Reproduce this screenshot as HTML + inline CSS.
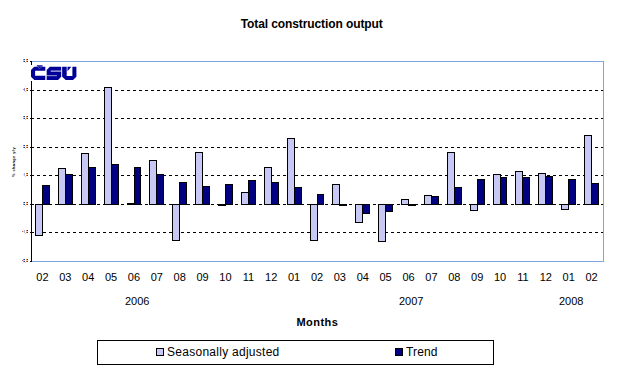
<!DOCTYPE html>
<html><head><meta charset="utf-8"><style>
html,body{margin:0;padding:0;background:#fff;}
body{width:625px;height:372px;position:relative;overflow:hidden;font-family:"Liberation Sans",sans-serif;color:#000;}
div{position:absolute;box-sizing:border-box;}
.bar{border:1px solid #000;}
.grid{left:31px;width:572px;height:1px;background:repeating-linear-gradient(to right,#000 0,#000 3px,transparent 3px,transparent 6px);}
.tick{left:30px;height:1px;background:#000;}
.yl{left:14px;width:14px;text-align:right;font-size:4px;line-height:5px;color:#222;}
.cat{top:271px;width:30px;text-align:center;font-size:11px;line-height:12px;}
.yr{top:295px;font-size:11px;line-height:12px;}
</style></head><body>
<div style="left:0;top:17px;width:625px;text-align:center;font-weight:bold;font-size:12px;line-height:14px;" id="title"><span style="position:relative;left:-0.8px;letter-spacing:-0.1px">Total construction output</span></div>
<div style="left:31px;top:61px;width:573px;height:201px;border:1px solid #7FA5DA;border-left:none;"></div>
<div class="grid" style="top:90px"></div><div class="grid" style="top:118px"></div><div class="grid" style="top:147px"></div><div class="grid" style="top:175px"></div><div class="grid" style="top:204px"></div><div class="grid" style="top:232px"></div>
<div style="left:31px;top:61px;width:1px;height:201px;background:#000;"></div>
<div class="tick" style="top:61px;width:2px"></div><div class="tick" style="top:90px;width:4px"></div><div class="tick" style="top:118px;width:4px"></div><div class="tick" style="top:147px;width:4px"></div><div class="tick" style="top:175px;width:4px"></div><div class="tick" style="top:204px;width:4px"></div><div class="tick" style="top:232px;width:4px"></div><div class="tick" style="top:261px;width:2px"></div>
<div class="bar" style="left:35px;width:8px;top:204px;height:32px;background:#C8C8F5"></div><div class="bar" style="left:42px;width:8px;top:185px;height:20px;background:#000080"></div><div class="bar" style="left:58px;width:8px;top:168px;height:37px;background:#C8C8F5"></div><div class="bar" style="left:65px;width:8px;top:174px;height:31px;background:#000080"></div><div class="bar" style="left:81px;width:8px;top:153px;height:52px;background:#C8C8F5"></div><div class="bar" style="left:88px;width:8px;top:167px;height:38px;background:#000080"></div><div class="bar" style="left:104px;width:8px;top:87px;height:118px;background:#C8C8F5"></div><div class="bar" style="left:111px;width:8px;top:164px;height:41px;background:#000080"></div><div class="bar" style="left:127px;width:8px;top:203px;height:2px;background:#C8C8F5"></div><div class="bar" style="left:134px;width:7px;top:167px;height:38px;background:#000080"></div><div class="bar" style="left:149px;width:8px;top:160px;height:45px;background:#C8C8F5"></div><div class="bar" style="left:156px;width:8px;top:174px;height:31px;background:#000080"></div><div class="bar" style="left:172px;width:8px;top:204px;height:37px;background:#C8C8F5"></div><div class="bar" style="left:179px;width:8px;top:182px;height:23px;background:#000080"></div><div class="bar" style="left:195px;width:8px;top:152px;height:53px;background:#C8C8F5"></div><div class="bar" style="left:202px;width:8px;top:186px;height:19px;background:#000080"></div><div class="bar" style="left:218px;width:8px;top:204px;height:2px;background:#C8C8F5"></div><div class="bar" style="left:225px;width:8px;top:184px;height:21px;background:#000080"></div><div class="bar" style="left:241px;width:8px;top:192px;height:13px;background:#C8C8F5"></div><div class="bar" style="left:248px;width:8px;top:180px;height:25px;background:#000080"></div><div class="bar" style="left:264px;width:8px;top:167px;height:38px;background:#C8C8F5"></div><div class="bar" style="left:271px;width:8px;top:182px;height:23px;background:#000080"></div><div class="bar" style="left:287px;width:8px;top:138px;height:67px;background:#C8C8F5"></div><div class="bar" style="left:294px;width:8px;top:187px;height:18px;background:#000080"></div><div class="bar" style="left:310px;width:8px;top:204px;height:37px;background:#C8C8F5"></div><div class="bar" style="left:317px;width:7px;top:194px;height:11px;background:#000080"></div><div class="bar" style="left:332px;width:8px;top:184px;height:21px;background:#C8C8F5"></div><div class="bar" style="left:339px;width:8px;top:204px;height:2px;background:#000080"></div><div class="bar" style="left:355px;width:8px;top:204px;height:19px;background:#C8C8F5"></div><div class="bar" style="left:362px;width:8px;top:204px;height:10px;background:#000080"></div><div class="bar" style="left:378px;width:8px;top:204px;height:38px;background:#C8C8F5"></div><div class="bar" style="left:385px;width:8px;top:204px;height:8px;background:#000080"></div><div class="bar" style="left:401px;width:8px;top:199px;height:6px;background:#C8C8F5"></div><div class="bar" style="left:408px;width:8px;top:204px;height:2px;background:#000080"></div><div class="bar" style="left:424px;width:8px;top:195px;height:10px;background:#C8C8F5"></div><div class="bar" style="left:431px;width:8px;top:196px;height:9px;background:#000080"></div><div class="bar" style="left:447px;width:8px;top:152px;height:53px;background:#C8C8F5"></div><div class="bar" style="left:454px;width:8px;top:187px;height:18px;background:#000080"></div><div class="bar" style="left:470px;width:8px;top:204px;height:7px;background:#C8C8F5"></div><div class="bar" style="left:477px;width:8px;top:179px;height:26px;background:#000080"></div><div class="bar" style="left:493px;width:8px;top:174px;height:31px;background:#C8C8F5"></div><div class="bar" style="left:500px;width:7px;top:177px;height:28px;background:#000080"></div><div class="bar" style="left:515px;width:8px;top:171px;height:34px;background:#C8C8F5"></div><div class="bar" style="left:522px;width:8px;top:177px;height:28px;background:#000080"></div><div class="bar" style="left:538px;width:8px;top:173px;height:32px;background:#C8C8F5"></div><div class="bar" style="left:545px;width:8px;top:176px;height:29px;background:#000080"></div><div class="bar" style="left:561px;width:8px;top:204px;height:6px;background:#C8C8F5"></div><div class="bar" style="left:568px;width:8px;top:179px;height:26px;background:#000080"></div><div class="bar" style="left:584px;width:8px;top:135px;height:70px;background:#C8C8F5"></div><div class="bar" style="left:591px;width:8px;top:183px;height:22px;background:#000080"></div>
<svg style="position:absolute;left:0;top:0" width="40" height="372"><rect x="23" y="59" width="1" height="1" fill="#D8841A"/><rect x="24" y="59" width="1" height="1" fill="#0846A8"/><rect x="23" y="61" width="1" height="1" fill="#D8841A"/><rect x="24" y="61" width="1" height="1" fill="#0846A8"/><rect x="23" y="60" width="2" height="1" fill="#F0A8B8" opacity="0.55"/><rect x="26" y="59" width="1" height="1" fill="#D8841A"/><rect x="27" y="59" width="1" height="1" fill="#0846A8"/><rect x="26" y="61" width="1" height="1" fill="#D8841A"/><rect x="27" y="61" width="1" height="1" fill="#0846A8"/><rect x="26" y="60" width="2" height="1" fill="#F0A8B8" opacity="0.55"/><rect x="25" y="62" width="1" height="1" fill="#F0A050" opacity="0.7"/><rect x="24" y="88" width="1" height="3" fill="#7A70C8" opacity="0.85"/><rect x="23" y="89" width="1" height="1" fill="#D06040" opacity="0.8"/><rect x="26" y="88" width="1" height="1" fill="#D8841A"/><rect x="27" y="88" width="1" height="1" fill="#0846A8"/><rect x="26" y="90" width="1" height="1" fill="#D8841A"/><rect x="27" y="90" width="1" height="1" fill="#0846A8"/><rect x="26" y="89" width="2" height="1" fill="#F0A8B8" opacity="0.55"/><rect x="25" y="91" width="1" height="1" fill="#F0A050" opacity="0.7"/><rect x="23" y="116" width="1" height="1" fill="#D8841A"/><rect x="24" y="116" width="1" height="1" fill="#0846A8"/><rect x="23" y="118" width="1" height="1" fill="#D8841A"/><rect x="24" y="118" width="1" height="1" fill="#0846A8"/><rect x="23" y="117" width="2" height="1" fill="#F0A8B8" opacity="0.55"/><rect x="26" y="116" width="1" height="1" fill="#D8841A"/><rect x="27" y="116" width="1" height="1" fill="#0846A8"/><rect x="26" y="118" width="1" height="1" fill="#D8841A"/><rect x="27" y="118" width="1" height="1" fill="#0846A8"/><rect x="26" y="117" width="2" height="1" fill="#F0A8B8" opacity="0.55"/><rect x="25" y="119" width="1" height="1" fill="#F0A050" opacity="0.7"/><rect x="23" y="145" width="1" height="1" fill="#D8841A"/><rect x="24" y="145" width="1" height="1" fill="#0846A8"/><rect x="23" y="147" width="1" height="1" fill="#D8841A"/><rect x="24" y="147" width="1" height="1" fill="#0846A8"/><rect x="23" y="146" width="2" height="1" fill="#F0A8B8" opacity="0.55"/><rect x="26" y="145" width="1" height="1" fill="#D8841A"/><rect x="27" y="145" width="1" height="1" fill="#0846A8"/><rect x="26" y="147" width="1" height="1" fill="#D8841A"/><rect x="27" y="147" width="1" height="1" fill="#0846A8"/><rect x="26" y="146" width="2" height="1" fill="#F0A8B8" opacity="0.55"/><rect x="25" y="148" width="1" height="1" fill="#F0A050" opacity="0.7"/><rect x="24" y="173" width="1" height="3" fill="#8C9CE0" opacity="0.75"/><rect x="23" y="174" width="1" height="1" fill="#F0A070" opacity="0.5"/><rect x="26" y="173" width="1" height="1" fill="#D8841A"/><rect x="27" y="173" width="1" height="1" fill="#0846A8"/><rect x="26" y="175" width="1" height="1" fill="#D8841A"/><rect x="27" y="175" width="1" height="1" fill="#0846A8"/><rect x="26" y="174" width="2" height="1" fill="#F0A8B8" opacity="0.55"/><rect x="25" y="176" width="1" height="1" fill="#F0A050" opacity="0.7"/><rect x="23" y="202" width="1" height="1" fill="#D8841A"/><rect x="24" y="202" width="1" height="1" fill="#0846A8"/><rect x="23" y="204" width="1" height="1" fill="#D8841A"/><rect x="24" y="204" width="1" height="1" fill="#0846A8"/><rect x="23" y="203" width="2" height="1" fill="#F0A8B8" opacity="0.55"/><rect x="26" y="202" width="1" height="1" fill="#D8841A"/><rect x="27" y="202" width="1" height="1" fill="#0846A8"/><rect x="26" y="204" width="1" height="1" fill="#D8841A"/><rect x="27" y="204" width="1" height="1" fill="#0846A8"/><rect x="26" y="203" width="2" height="1" fill="#F0A8B8" opacity="0.55"/><rect x="25" y="205" width="1" height="1" fill="#F0A050" opacity="0.7"/><rect x="24" y="230" width="1" height="3" fill="#8C9CE0" opacity="0.75"/><rect x="23" y="231" width="1" height="1" fill="#F0A070" opacity="0.5"/><rect x="26" y="230" width="1" height="1" fill="#D8841A"/><rect x="27" y="230" width="1" height="1" fill="#0846A8"/><rect x="26" y="232" width="1" height="1" fill="#D8841A"/><rect x="27" y="232" width="1" height="1" fill="#0846A8"/><rect x="26" y="231" width="2" height="1" fill="#F0A8B8" opacity="0.55"/><rect x="25" y="233" width="1" height="1" fill="#F0A050" opacity="0.7"/><rect x="22" y="231" width="1" height="1" fill="#A03040" opacity="0.8"/><rect x="23" y="259" width="1" height="1" fill="#D8841A"/><rect x="24" y="259" width="1" height="1" fill="#0846A8"/><rect x="23" y="261" width="1" height="1" fill="#D8841A"/><rect x="24" y="261" width="1" height="1" fill="#0846A8"/><rect x="23" y="260" width="2" height="1" fill="#F0A8B8" opacity="0.55"/><rect x="26" y="259" width="1" height="1" fill="#D8841A"/><rect x="27" y="259" width="1" height="1" fill="#0846A8"/><rect x="26" y="261" width="1" height="1" fill="#D8841A"/><rect x="27" y="261" width="1" height="1" fill="#0846A8"/><rect x="26" y="260" width="2" height="1" fill="#F0A8B8" opacity="0.55"/><rect x="25" y="262" width="1" height="1" fill="#F0A050" opacity="0.7"/><rect x="22" y="260" width="1" height="1" fill="#A03040" opacity="0.8"/></svg>
<div style="left:-2.3px;top:158.5px;width:32px;height:6px;transform-origin:16px 3px;transform:rotate(-90deg);font-size:3.9px;font-weight:bold;letter-spacing:0.45px;line-height:6px;text-align:center;color:#000;">% change y/y</div>
<div class="cat" style="left:27.44px">02</div><div class="cat" style="left:50.32px">03</div><div class="cat" style="left:73.20px">04</div><div class="cat" style="left:96.08px">05</div><div class="cat" style="left:118.96px">06</div><div class="cat" style="left:141.84px">07</div><div class="cat" style="left:164.72px">08</div><div class="cat" style="left:187.60px">09</div><div class="cat" style="left:210.48px">10</div><div class="cat" style="left:233.36px">11</div><div class="cat" style="left:256.24px">12</div><div class="cat" style="left:279.12px">01</div><div class="cat" style="left:302.00px">02</div><div class="cat" style="left:324.88px">03</div><div class="cat" style="left:347.76px">04</div><div class="cat" style="left:370.64px">05</div><div class="cat" style="left:393.52px">06</div><div class="cat" style="left:416.40px">07</div><div class="cat" style="left:439.28px">08</div><div class="cat" style="left:462.16px">09</div><div class="cat" style="left:485.04px">10</div><div class="cat" style="left:507.92px">11</div><div class="cat" style="left:530.80px">12</div><div class="cat" style="left:553.68px">01</div><div class="cat" style="left:576.56px">02</div>
<div class="yr" style="left:125px">2006</div>
<div class="yr" style="left:399px">2007</div>
<div class="yr" style="left:559px">2008</div>
<div style="left:296.5px;top:316px;font-weight:bold;font-size:11px;line-height:12px;letter-spacing:0.45px">Months</div>
<div style="left:97px;top:340px;width:397px;height:25px;border:1px solid #000;"></div>
<div style="left:156px;top:348px;width:8px;height:8px;border:1px solid #000;background:#C8C8F5"></div>
<div style="left:395px;top:348px;width:8px;height:8px;border:1px solid #000;background:#000080"></div>
<div style="left:167px;top:345px;font-size:12px;line-height:14px;letter-spacing:0.27px">Seasonally adjusted</div>
<div style="left:406px;top:345px;font-size:12px;line-height:14px;letter-spacing:0.15px">Trend</div>
<svg style="position:absolute;left:0;top:0" width="625" height="372" viewBox="0 0 625 372">
<rect x="30" y="65" width="48" height="16" fill="#fff"/>
<path fill="#000099" d="M34.2 66.8 L45.3 66.8 L45.3 70.8 L35.1 70.8 L35.1 75.8 L45.3 75.8 L45.3 80 L34.3 80 L31 76.7 L31 70 Z"/>
<path fill="#000099" d="M36.8 65.1 L42.6 65.1 L42.6 66.9 L36.8 66.9 Z" opacity="0.8"/>
<path fill="none" stroke="#fff" stroke-opacity="0.45" stroke-width="0.7" d="M37 66.2 L39.7 68.6 L42.4 66.2"/>
<path fill="#000099" d="M49.8 66.8 L61.2 66.8 L61.2 76.7 L58.1 80 L46.7 80 L46.7 70 Z"/>
<rect x="50.7" y="70.4" width="10.6" height="1.5" fill="#fff" opacity="0.6"/>
<rect x="46.6" y="75.0" width="10.3" height="1.2" fill="#fff" opacity="0.5"/>
<path fill="#000099" d="M62.15 66.7 L66.7 66.7 L66.7 75.9 L72.4 75.9 L72.4 66.7 L76.4 66.7 L76.4 76.7 L73 79.9 L65.7 79.9 L62.15 76.7 Z"/>
<path fill="#000099" d="M67.5 66.7 L71.3 66.7 L67.5 71.3 Z"/>
</svg>
</body></html>
